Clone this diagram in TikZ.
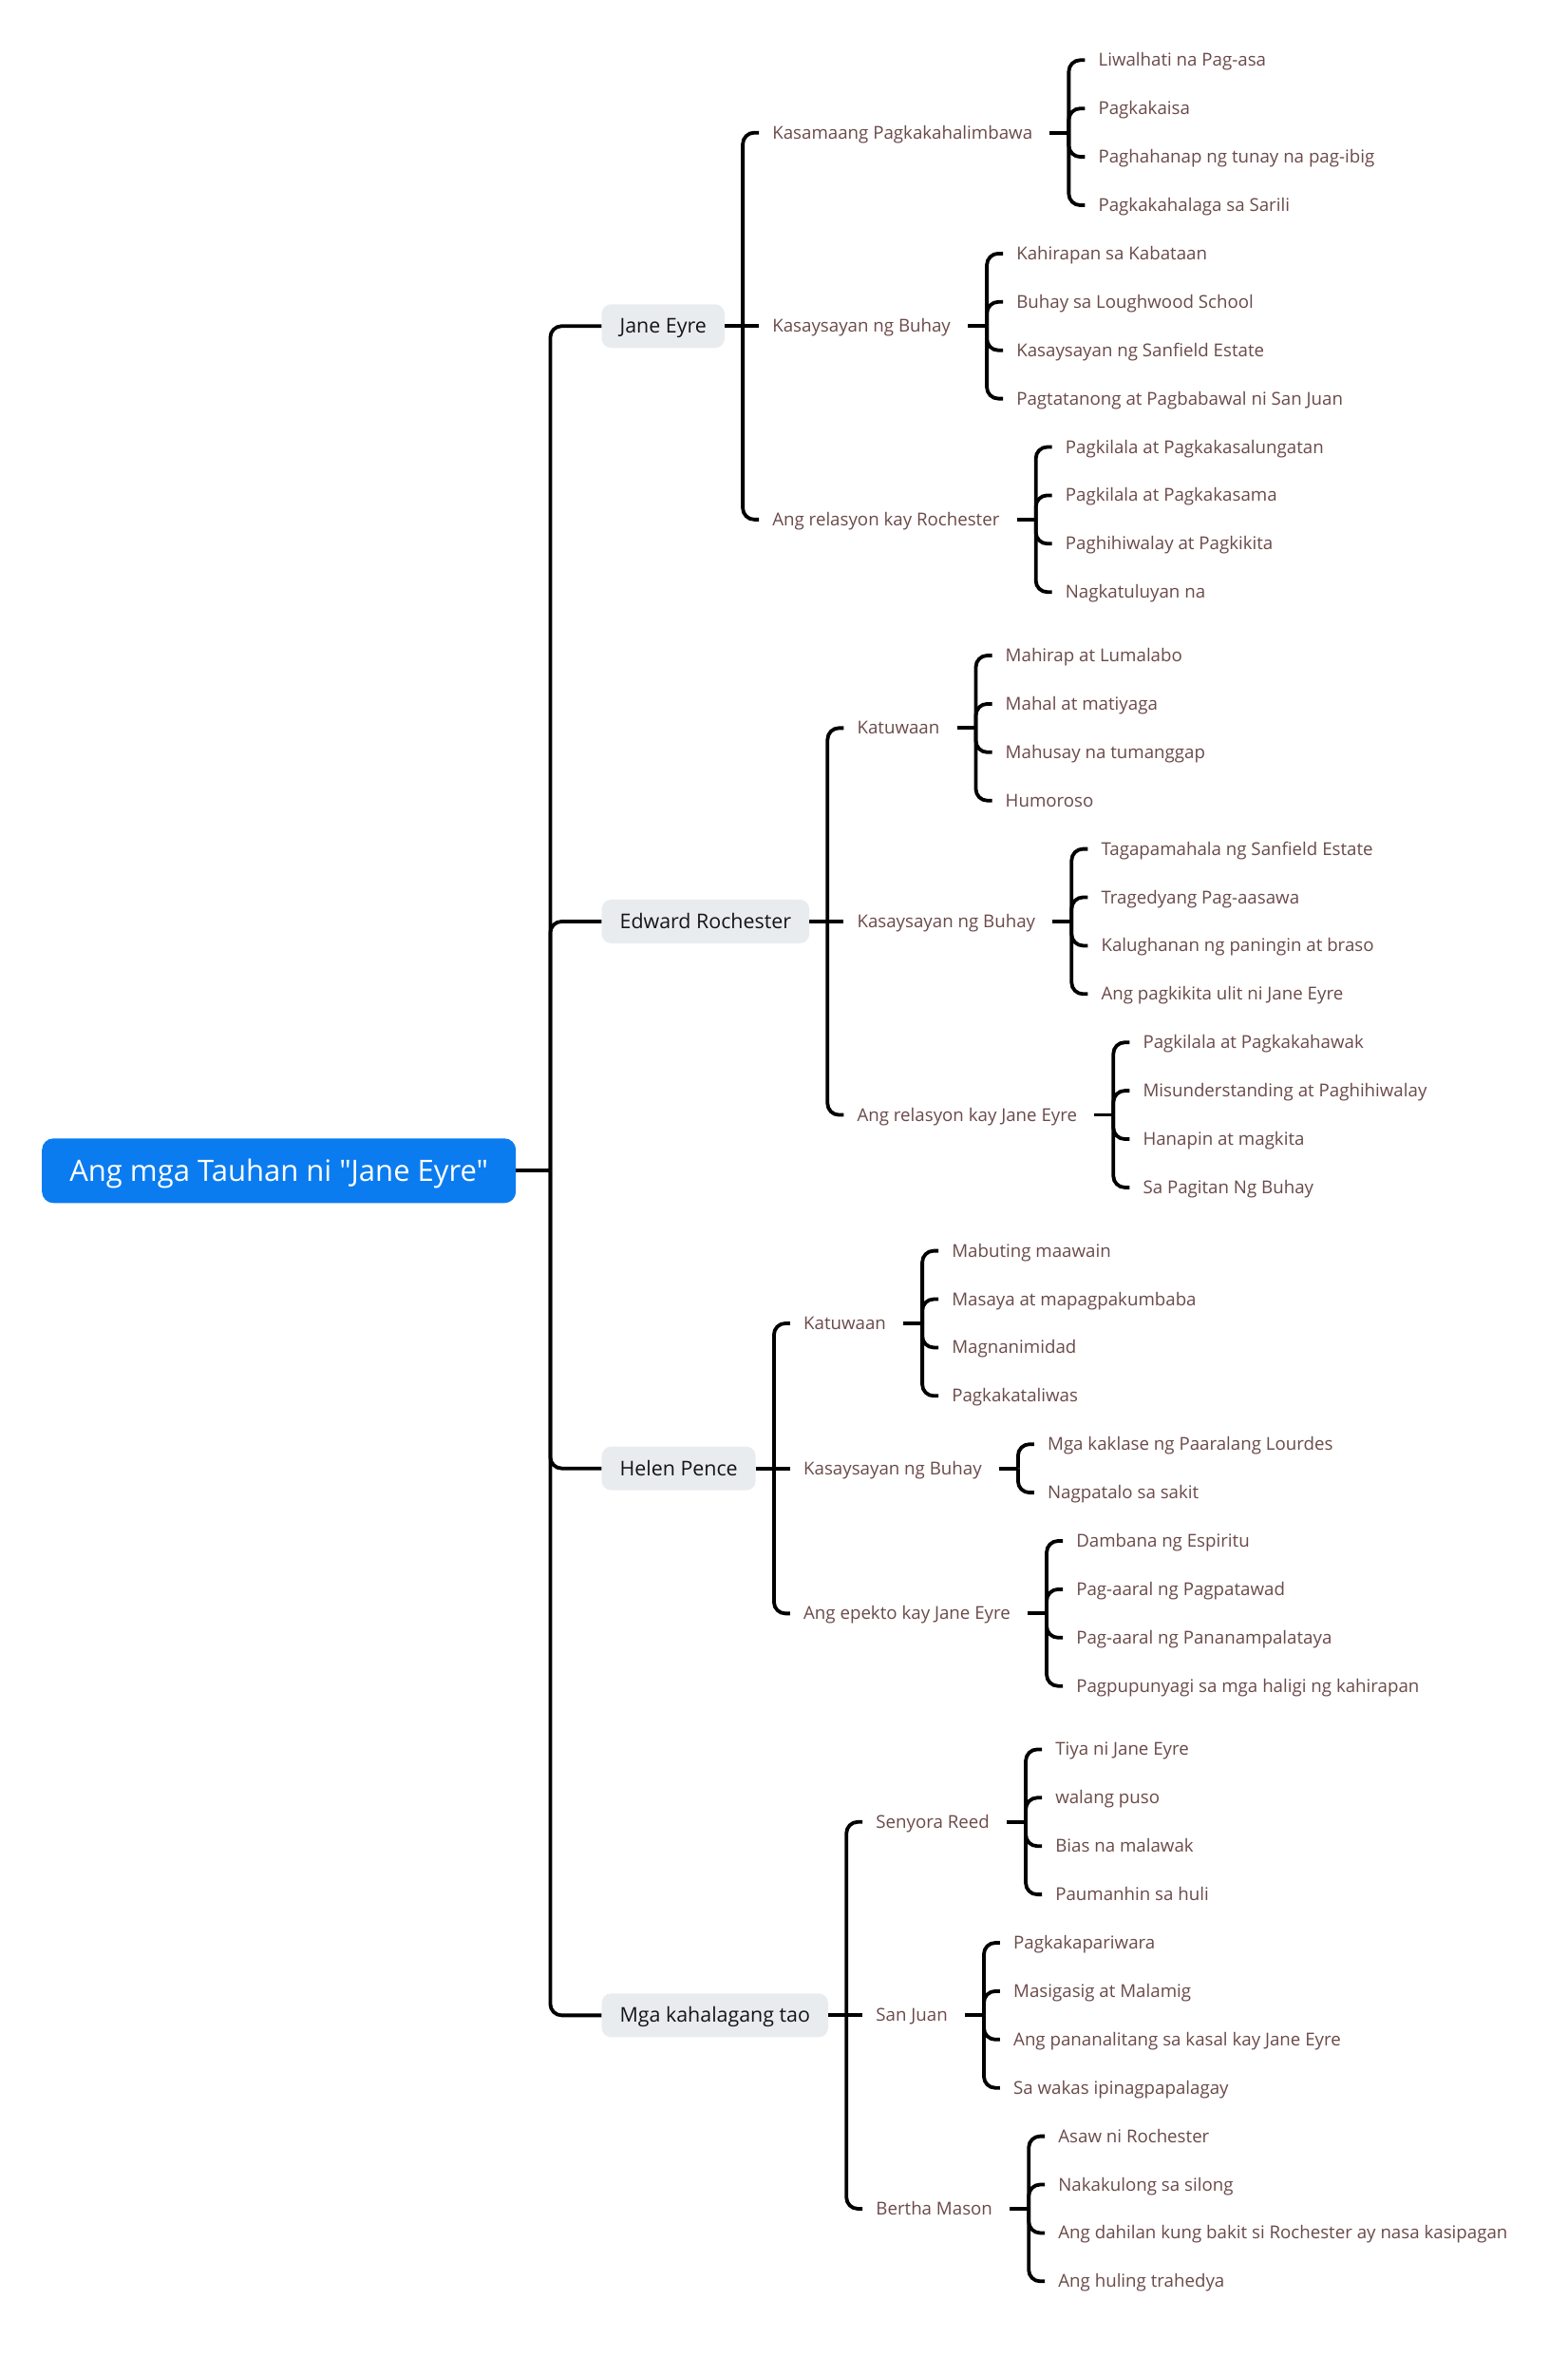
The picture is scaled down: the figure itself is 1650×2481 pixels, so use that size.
\documentclass[tikz,border=0pt]{standalone}
\usepackage{fontspec}
\setmainfont{Open Sans}[Ligatures=TeXOff]
\usepackage{tikz}
\usetikzlibrary{positioning,calc}
\definecolor{mapblue}{HTML}{0A7CF0}
\definecolor{mapgrey}{HTML}{E9ECEF}
\definecolor{mapbrown}{HTML}{6B4A4A}
\definecolor{mapink}{HTML}{141414}
% leaves of one branch: parent, offset of first leaf, texts
\newcommand{\twigs}[3]{%
  \draw[link] ([xshift=4pt]#1.east) -- ++(20,0) coordinate (#1-s);
  \foreach \t [count=\i] in {#3} {
    \node[leaf] (#1-\i) at ([shift={(17,{#2+(\i-1)*50.9})}]#1-s) {\t};
    \draw[link] (#1-s) |- (#1-\i.west);
  }}

\begin{document}
\begin{tikzpicture}[x=1pt, y=-1pt,
  root/.style={fill=mapblue, text=white, rounded corners=12pt, anchor=west, minimum width=499pt, minimum height=68pt,
    font=\fontsize{31}{36}\selectfont, text height=29.5pt, text depth=7.7pt},
  main/.style={fill=mapgrey, text=mapink, rounded corners=10pt, anchor=west, inner xsep=19pt, minimum height=46pt,
    font=\fontsize{21.4}{25}\selectfont, text height=20.3pt, text depth=5.4pt},
  sub/.style={text=mapbrown, anchor=west, inner xsep=14pt, inner ysep=2pt,
    font=\fontsize{18.7}{22}\selectfont, text height=17.8pt, text depth=4.7pt},
  leaf/.style={sub},
  link/.style={draw=black, line width=3.8pt, rounded corners=12pt}]
  \path[use as bounding box, fill=white] (0,0) rectangle (1650,2481);

  \node[root] (root) at (44,1232.3) {Ang mga Tauhan ni "Jane Eyre"};
  \draw[link] (root.east) -- ++(36,0) coordinate (root-s);
  \node[main] (jane) at ([shift={(54,-889.05)}]root-s) {Jane Eyre};
  \node[main] (edward) at ([shift={(54,-262.35)}]root-s) {Edward Rochester};
  \node[main] (helen) at ([shift={(54,313.35)}]root-s) {Helen Pence};
  \node[main] (tao) at ([shift={(54,889.05)}]root-s) {Mga kahalagang tao};
  \foreach \n in {jane,edward,helen,tao} \draw[link] (root-s) |- (\n.west);

  % Jane Eyre
  \coordinate (jane-s) at ([xshift=19pt]jane.east);
  \node[sub] (jane-a) at ([shift={(17,-203.6)}]jane-s) {Kasamaang Pagkakahalimbawa};
  \node[sub] (jane-b) at ([shift={(17,0)}]jane-s) {Kasaysayan ng Buhay};
  \node[sub] (jane-c) at ([shift={(17,203.6)}]jane-s) {Ang relasyon kay Rochester};
  \draw[link] (jane.east) -- (jane-b.west);
  \draw[link] (jane-s) |- (jane-a.west);
  \draw[link] (jane-s) |- (jane-c.west);
  \twigs{jane-a}{-76.35}{Liwalhati na Pag-asa, Pagkakaisa, Paghahanap ng tunay na pag-ibig, Pagkakahalaga sa Sarili}
  \twigs{jane-b}{-76.35}{Kahirapan sa Kabataan, Buhay sa Loughwood School, Kasaysayan ng Sanfield Estate, Pagtatanong at Pagbabawal ni San Juan}
  \twigs{jane-c}{-76.35}{Pagkilala at Pagkakasalungatan, Pagkilala at Pagkakasama, Paghihiwalay at Pagkikita, Nagkatuluyan na}

  % Edward Rochester
  \coordinate (edward-s) at ([xshift=19pt]edward.east);
  \node[sub] (edward-a) at ([shift={(17,-203.6)}]edward-s) {Katuwaan};
  \node[sub] (edward-b) at ([shift={(17,0)}]edward-s) {Kasaysayan ng Buhay};
  \node[sub] (edward-c) at ([shift={(17,203.6)}]edward-s) {Ang relasyon kay Jane Eyre};
  \draw[link] (edward.east) -- (edward-b.west);
  \draw[link] (edward-s) |- (edward-a.west);
  \draw[link] (edward-s) |- (edward-c.west);
  \twigs{edward-a}{-76.35}{Mahirap at Lumalabo, Mahal at matiyaga, Mahusay na tumanggap, Humoroso}
  \twigs{edward-b}{-76.35}{Tagapamahala ng Sanfield Estate, Tragedyang Pag-aasawa, Kalughanan ng paningin at braso, Ang pagkikita ulit ni Jane Eyre}
  \twigs{edward-c}{-76.35}{Pagkilala at Pagkakahawak, Misunderstanding at Paghihiwalay, Hanapin at magkita, Sa Pagitan Ng Buhay}

  % Helen Pence
  \coordinate (helen-s) at ([xshift=19pt]helen.east);
  \node[sub] (helen-a) at ([shift={(17,-152.7)}]helen-s) {Katuwaan};
  \node[sub] (helen-b) at ([shift={(17,0)}]helen-s) {Kasaysayan ng Buhay};
  \node[sub] (helen-c) at ([shift={(17,152.7)}]helen-s) {Ang epekto kay Jane Eyre};
  \draw[link] (helen.east) -- (helen-b.west);
  \draw[link] (helen-s) |- (helen-a.west);
  \draw[link] (helen-s) |- (helen-c.west);
  \twigs{helen-a}{-76.35}{Mabuting maawain, Masaya at mapagpakumbaba, Magnanimidad, Pagkakataliwas}
  \twigs{helen-b}{-25.45}{Mga kaklase ng Paaralang Lourdes, Nagpatalo sa sakit}
  \twigs{helen-c}{-76.35}{Dambana ng Espiritu, Pag-aaral ng Pagpatawad, Pag-aaral ng Pananampalataya, Pagpupunyagi sa mga haligi ng kahirapan}

  % Mga kahalagang tao
  \coordinate (tao-s) at ([xshift=19pt]tao.east);
  \node[sub] (tao-a) at ([shift={(17,-203.6)}]tao-s) {Senyora Reed};
  \node[sub] (tao-b) at ([shift={(17,0)}]tao-s) {San Juan};
  \node[sub] (tao-c) at ([shift={(17,203.6)}]tao-s) {Bertha Mason};
  \draw[link] (tao.east) -- (tao-b.west);
  \draw[link] (tao-s) |- (tao-a.west);
  \draw[link] (tao-s) |- (tao-c.west);
  \twigs{tao-a}{-76.35}{Tiya ni Jane Eyre, walang puso, Bias na malawak, Paumanhin sa huli}
  \twigs{tao-b}{-76.35}{Pagkakapariwara, Masigasig at Malamig, Ang pananalitang sa kasal kay Jane Eyre, Sa wakas ipinagpapalagay}
  \twigs{tao-c}{-76.35}{Asaw ni Rochester, Nakakulong sa silong, Ang dahilan kung bakit si Rochester ay nasa kasipagan, Ang huling trahedya}
\end{tikzpicture}
\end{document}
